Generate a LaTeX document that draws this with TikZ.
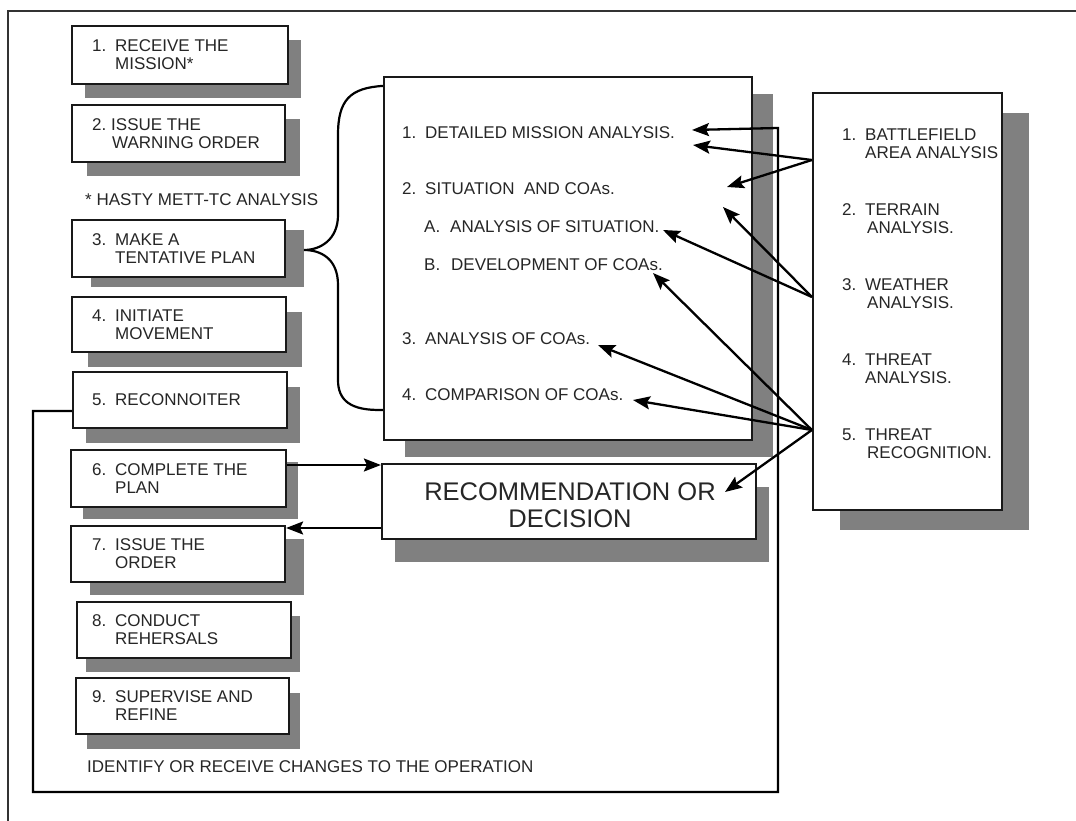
\documentclass[tikz,border=0pt]{standalone}
\usepackage{fontspec}
\setmainfont{Liberation Sans}
\usetikzlibrary{arrows.meta,shadows,calc}
\definecolor{shade}{RGB}{128,128,128}
\newcommand{\itemno}[1]{\makebox[23pt][l]{#1}}
\begin{document}
\begin{tikzpicture}[x=1pt,y=-1pt,
  box/.style={draw=black!90, line width=2.2pt, fill=white, inner sep=0pt},
  shbox/.style 2 args={drop shadow={shadow xshift=#1pt, shadow yshift=-#2pt, opacity=1, fill=shade}},
  lbl/.style={font=\fontsize{17}{18}\selectfont, text=black!85, align=left, anchor=west, inner sep=0pt},
  conn/.style={line width=2.3pt, -{Stealth[length=17pt,width=13pt,inset=3pt]}},
  plain/.style={line width=2.2pt}
]
\useasboundingbox (0,0) rectangle (1076,821);
% outer frame (top and left only)
\draw[line width=1.5pt, black!80] (8,821) -- (8,11) -- (1076,11);

% left column boxes
\node[box, shbox={13}{14}, minimum width=216pt, minimum height=58pt] (b1) at (180,55) {};
\node[box, shbox={15}{14}, minimum width=213pt, minimum height=57pt] (b2) at (178.5,133.5) {};
\node[box, shbox={19}{10}, minimum width=213pt, minimum height=57pt] (b3) at (178.5,248.5) {};
\node[box, shbox={16}{15}, minimum width=214pt, minimum height=55pt] (b4) at (179,324.5) {};
\node[box, shbox={13}{15}, minimum width=214pt, minimum height=56pt] (b5) at (180,400) {};
\node[box, shbox={12}{12}, minimum width=215pt, minimum height=57pt] (b6) at (178.5,478.5) {};
\node[box, shbox={19}{13}, minimum width=214pt, minimum height=56pt] (b7) at (178,554) {};
\node[box, shbox={9}{14}, minimum width=214pt, minimum height=56pt] (b8) at (184,630) {};
\node[box, shbox={11}{15}, minimum width=213pt, minimum height=56pt] (b9) at (182.5,706) {};

\node[lbl] (t1) at (92,55) {\itemno{1.}RECEIVE THE\\\hspace*{23pt}MISSION*};
\node[lbl] (t2) at (92,133.5) {\makebox[19pt][l]{2.}ISSUE THE\\\hspace*{20pt}WARNING ORDER};
\node[lbl] (t3) at (92,248.5) {\itemno{3.}MAKE A\\\hspace*{23pt}TENTATIVE PLAN};
\node[lbl] (t4) at (92,324.5) {\itemno{4.}INITIATE\\\hspace*{23pt}MOVEMENT};
\node[lbl] (t5) at (92,400) {\itemno{5.}RECONNOITER};
\node[lbl] (t6) at (92,478.5) {\itemno{6.}COMPLETE THE\\\hspace*{23pt}PLAN};
\node[lbl] (t7) at (92,554) {\itemno{7.}ISSUE THE\\\hspace*{23pt}ORDER};
\node[lbl] (t8) at (92,630) {\itemno{8.}CONDUCT\\\hspace*{23pt}REHERSALS};
\node[lbl] (t9) at (92,706) {\itemno{9.}SUPERVISE AND\\\hspace*{23pt}REFINE};

\node[lbl] (hasty) at (85,200) {* HASTY METT-TC ANALYSIS};
\node[lbl] (ident) at (87,767) {IDENTIFY OR RECEIVE CHANGES TO THE OPERATION};

% middle box
\node[box, shbox={21}{17}, minimum width=368pt, minimum height=363pt] (mid) at (568,258.5) {};
\node[lbl] (m1) at (402,133) {\itemno{1.}DETAILED MISSION ANALYSIS.};
\node[lbl] (m2) at (402,189) {\itemno{2.}SITUATION\ \ AND COAs.};
\node[lbl] (mA) at (424,227) {\makebox[26pt][l]{A.}ANALYSIS OF SITUATION.};
\node[lbl] (mB) at (424,265) {\makebox[27pt][l]{B.}DEVELOPMENT OF COAs.};
\node[lbl] (m3) at (402,339) {\itemno{3.}ANALYSIS OF COAs.};
\node[lbl] (m4) at (402,395) {\itemno{4.}COMPARISON OF COAs.};

% right box
\node[box, shbox={27}{20}, minimum width=189pt, minimum height=417pt] (rb) at (907.5,301.5) {};
\node[lbl] (r1) at (842,143.5) {\itemno{1.}BATTLEFIELD\\\hspace*{23pt}AREA ANALYSIS};
\node[lbl] (r2) at (842,219) {\itemno{2.}TERRAIN\\\hspace*{25pt}ANALYSIS.};
\node[lbl] (r3) at (842,294) {\itemno{3.}WEATHER\\\hspace*{25pt}ANALYSIS.};
\node[lbl] (r4) at (842,368.5) {\itemno{4.}THREAT\\\hspace*{23pt}ANALYSIS.};
\node[lbl] (r5) at (842,444) {\itemno{5.}THREAT\\\hspace*{25pt}RECOGNITION.};

% recommendation box
\node[box, shbox={13}{23}, minimum width=374pt, minimum height=75pt] (rec) at (569,501.5) {};
\node[font=\fontsize{25.5}{27}\selectfont, text=black!85, align=center, inner sep=0pt] (rect) at (570,505.5) {RECOMMENDATION OR\\DECISION};

% brace from step 3 to middle box
\coordinate (brtop) at ($(mid.north west)+(0,10)$);
\coordinate (brbot) at ($(mid.north west)+(0,334)$);
\coordinate (brtip) at (304,250);
\draw[plain] (brtop) .. controls (350,88) and (338,100) .. (338,135) -- (338,215)
  .. controls (338,240) and (320,250) .. (brtip)
  .. controls (320,250) and (338,258) .. (338,285) -- (338,380)
  .. controls (338,400) and (350,411) .. (brbot);

% fan-out points on right box
\coordinate (pB) at (rb.west |- 0,160);
\coordinate (pW) at (rb.west |- 0,297);
\coordinate (pT) at (rb.west |- 0,430);
% arrow tips
\coordinate (a1) at (692,130);
\coordinate (a2) at (693,145);
\coordinate (a3) at (727,187);
\coordinate (a4) at (723,207);
\coordinate (a5) at (663,230);
\coordinate (a6) at (653,273);
\coordinate (a7) at (598,345);
\coordinate (a8) at (633,400);
\coordinate (a9) at (725,492);

\draw[conn] (pB) -- (a2);
\draw[conn] (pB) -- (a3);
\draw[conn] (pW) -- (a4);
\draw[conn] (pW) -- (a5);
\draw[conn] (pT) -- (a6);
\draw[conn] (pT) -- (a7);
\draw[conn] (pT) -- (a8);
\draw[conn] (pT) -- (a9);

% feedback loop
\coordinate (fb0) at (b5.west |- 0,411);
\coordinate (fb1) at (33,411);
\coordinate (fb2) at (33,792);
\coordinate (fb3) at (778,792);
\coordinate (fb4) at (778,128);
\draw[conn] (fb0) -- (fb1) -- (fb2) -- (fb3) -- (fb4) -- (a1);

% complete plan -> recommendation, recommendation -> issue order
\draw[conn] (b6.east |- 0,465) -- (rec.west |- 0,465);
\draw[conn] (rec.west |- 0,528) -- (b7.east |- 0,528);
\end{tikzpicture}
\end{document}
